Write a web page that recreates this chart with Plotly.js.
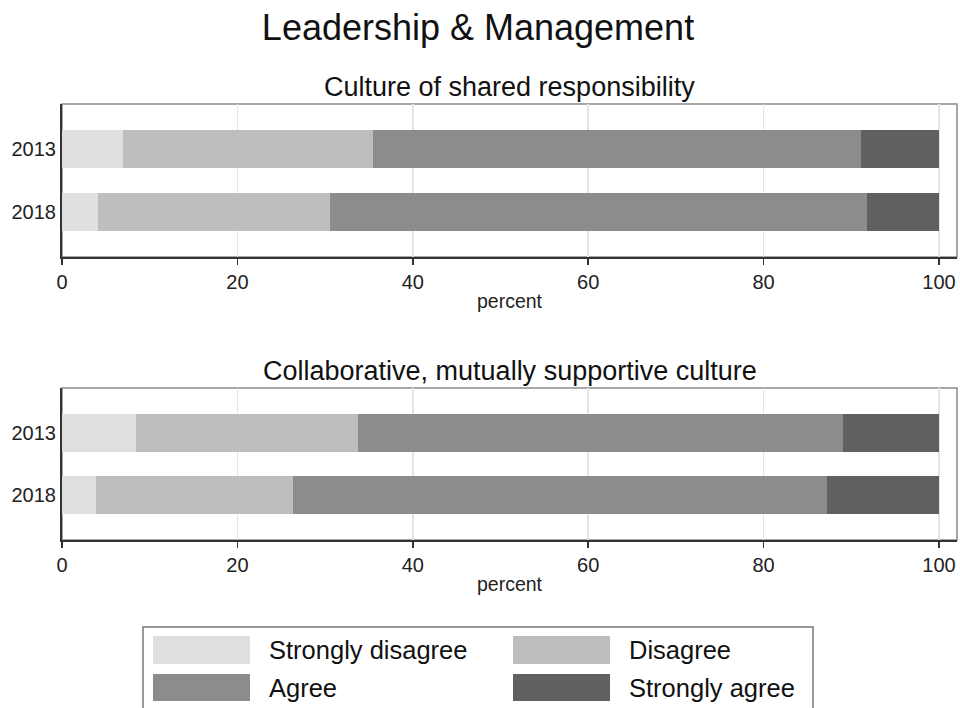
<!DOCTYPE html>
<html>
<head>
<meta charset="utf-8">
<script src="https://cdn.plot.ly/plotly-3.0.1.min.js"></script>
<style>html,body{margin:0;padding:0;background:#fff;}#chart{width:960px;height:708px;}</style>
</head>
<body>
<div id="chart"></div>
<script>
// ---- data ----
const years = ['2013', '2018'];
const seriesNames = ['Strongly disagree', 'Disagree', 'Agree', 'Strongly agree'];
const panelTitles = ['Culture of shared responsibility', 'Collaborative, mutually supportive culture'];
const mainTitle = 'Leadership & Management';
const axisLabel = 'percent';
const xTicks = [0, 20, 40, 60, 80, 100];

// Culture of shared responsibility (percent)
const sharedSD = [7.0, 4.1];
const sharedD  = [28.5, 26.5];
const sharedA  = [55.6, 61.2];
const sharedSA = [8.9, 8.2];

// Collaborative, mutually supportive culture (percent)
const collabSD = [8.4, 3.9];
const collabD  = [25.4, 22.4];
const collabA  = [55.3, 60.9];
const collabSA = [10.9, 12.8];

const seriesColors = ['#e0e0e0', '#bebebe', '#8c8c8c', '#606060'];

// ---- layout helpers ----
const W = 960, H = 708;
const px = v => v / W;
const py = v => 1 - v / H;
const FONT = 'Liberation Sans, Arial, sans-serif';

const panels = [
  {vals: [sharedSD, sharedD, sharedA, sharedSA], xa: 'x', ya: 'y', top: 104, bottom: 257},
  {vals: [collabSD, collabD, collabA, collabSA], xa: 'x2', ya: 'y2', top: 388, bottom: 540}
];

const traces = [];
panels.forEach((p, pi) => {
  p.vals.forEach((v, si) => {
    traces.push({
      type: 'bar', orientation: 'h',
      x: v, y: years, name: seriesNames[si],
      xaxis: p.xa, yaxis: p.ya,
      width: 0.6,
      marker: {color: seriesColors[si], line: {width: 0}},
      showlegend: false,
      hovertemplate: seriesNames[si] + ': %{x}%<extra>%{y}</extra>'
    });
  });
});

const xDomain = [px(62), px(957)];
const axisX = () => ({
  domain: xDomain, range: [0, 102.05], fixedrange: true,
  tickvals: xTicks, ticks: 'outside', ticklen: 6, tickwidth: 1.5, tickcolor: '#333',
  showgrid: true, gridcolor: '#e4e4e4', gridwidth: 1.5,
  showline: true, linecolor: '#333', linewidth: 2,
  zeroline: false,
  tickfont: {family: FONT, size: 20, color: '#222'}
});
const axisY = (p) => ({
  domain: [py(p.bottom), py(p.top)],
  type: 'category', range: [1.72, -0.72], fixedrange: true,
  showgrid: false, zeroline: false, ticks: '',
  showline: true, linecolor: '#333', linewidth: 2,
  ticklabelstandoff: 0,
  tickfont: {family: FONT, size: 20, color: '#222'}
});

const shapes = [];
const annotations = [];

panels.forEach((p, pi) => {
  const sfx = pi === 0 ? '' : '2';
  // light frame around plot region
  shapes.push({
    type: 'rect', xref: 'x' + sfx + ' domain', yref: 'y' + sfx + ' domain',
    x0: 0, x1: 1, y0: 0, y1: 1, layer: 'below',
    line: {color: '#8a8a8a', width: 1.5}, fillcolor: 'rgba(0,0,0,0)'
  });
  annotations.push({
    text: panelTitles[pi], xref: 'paper', yref: 'paper',
    x: (xDomain[0] + xDomain[1]) / 2, y: py(p.top - 17),
    xanchor: 'center', yanchor: 'middle', showarrow: false,
    font: {family: FONT, size: 27, color: '#111'}
  });
  annotations.push({
    text: axisLabel, xref: 'paper', yref: 'paper',
    x: (xDomain[0] + xDomain[1]) / 2, y: py(p.bottom + 44),
    xanchor: 'center', yanchor: 'middle', showarrow: false,
    font: {family: FONT, size: 19.5, color: '#222'}
  });
});

// legend box drawn as shapes
shapes.push({
  type: 'rect', xref: 'paper', yref: 'paper',
  x0: px(143), x1: px(813), y0: py(720), y1: py(627),
  line: {color: '#777', width: 1.5}, fillcolor: '#fff', layer: 'below'
});
const legCols = [153, 513], legRows = [[636, 664], [674, 701]];
seriesNames.forEach((name, i) => {
  const c = i % 2, r = Math.floor(i / 2);
  shapes.push({
    type: 'rect', xref: 'paper', yref: 'paper',
    x0: px(legCols[c]), x1: px(legCols[c] + 97),
    y0: py(legRows[r][1]), y1: py(legRows[r][0]),
    line: {width: 0}, fillcolor: seriesColors[i]
  });
  annotations.push({
    text: name, xref: 'paper', yref: 'paper',
    x: px(legCols[c] + 114), y: py((legRows[r][0] + legRows[r][1]) / 2),
    xanchor: 'left', yanchor: 'middle', showarrow: false,
    font: {family: FONT, size: 25.5, color: '#111'}
  });
});

const layout = {
  width: W, height: H,
  margin: {l: 0, r: 0, t: 0, b: 0},
  paper_bgcolor: '#fff', plot_bgcolor: '#fff',
  barmode: 'stack', showlegend: false,
  title: {text: mainTitle, x: 478 / W, xanchor: 'center', y: py(27), yref: 'container', yanchor: 'middle',
          font: {family: FONT, size: 36, color: '#111'}},
  xaxis: Object.assign(axisX(), {anchor: 'y'}),
  yaxis: Object.assign(axisY(panels[0]), {anchor: 'x'}),
  xaxis2: Object.assign(axisX(), {anchor: 'y2'}),
  yaxis2: Object.assign(axisY(panels[1]), {anchor: 'x2'}),
  shapes: shapes, annotations: annotations
};

Plotly.newPlot('chart', traces, layout, {displayModeBar: false, staticPlot: true});
</script>
</body>
</html>
